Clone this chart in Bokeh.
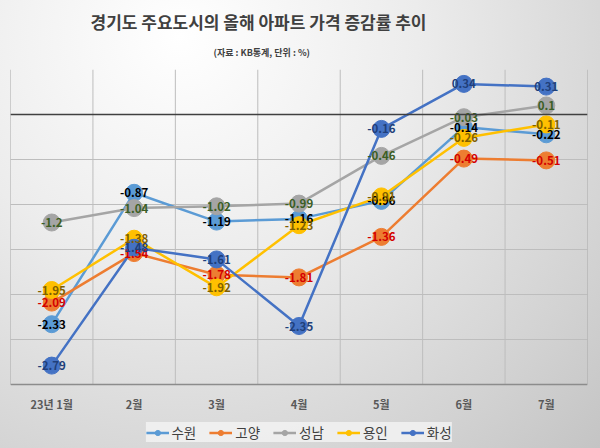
from bokeh.plotting import figure
from bokeh.models import ColumnDataSource, FixedTicker, Span, Title, Legend, LegendItem
from bokeh.core.properties import value
from bokeh.embed import file_html
from bokeh.resources import INLINE

months = ["23년 1월", "2월", "3월", "4월", "5월", "6월", "7월"]
cities = ["수원", "고양", "성남", "용인", "화성"]
suwon = [-2.33, -0.87, -1.19, -1.16, -0.96, -0.14, -0.22]
goyang = [-2.09, -1.54, -1.78, -1.81, -1.36, -0.49, -0.51]
seongnam = [-1.2, -1.04, -1.02, -0.99, -0.46, -0.03, 0.1]
yongin = [-1.95, -1.38, -1.92, -1.23, -0.91, -0.26, -0.11]
hwaseong = [-2.79, -1.48, -1.61, -2.35, -0.16, 0.34, 0.31]
y_grid_ticks = [-3.0, -2.5, -2.0, -1.5, -1.0, -0.5, 0.0, 0.5]

title_text = "경기도 주요도시의 올해 아파트 가격 증감률 추이"
subtitle_text = "(자료 : KB통계, 단위 : %)"

FONT = "Noto Sans CJK KR"
series = [suwon, goyang, seongnam, yongin, hwaseong]
line_colors = ["#5B9BD5", "#ED7D31", "#A5A5A5", "#FFC000", "#4472C4"]
label_colors = ["#000000", "#D40000", "#3B5E24", "#806000", "#203F7A"]

xs = list(range(1, len(months) + 1))
y_lo, y_hi = y_grid_ticks[0], y_grid_ticks[-1]
x_lo, x_hi = xs[0] - 0.5, xs[-1] + 0.5
px_per_unit = 90.0
frame_h = 448 - 69
y_start = y_hi - frame_h / px_per_unit  # extend the frame down to hold tick labels and legend

p = figure(width=600, height=448, x_range=(x_lo, x_hi), y_range=(y_start, y_hi),
           output_backend="svg", toolbar_location=None,
           min_border_left=10, min_border_right=13, min_border_top=69, min_border_bottom=0)
p.title = None
p.styles = {"background": "radial-gradient(ellipse at 30% 8%, #ffffff 0%, #ececec 40%, #d2d2d2 80%, #c4c4c4 100%)"}
p.border_fill_alpha = 0
p.background_fill_alpha = 0
p.outline_line_color = None
p.xaxis.visible = False
p.yaxis.visible = False
p.xgrid.visible = False
p.ygrid.ticker = FixedTicker(ticks=y_grid_ticks)
p.ygrid.grid_line_color = "#BDBDBD"

# vertical grid lines restricted to the plotting area
gx = [x - 0.5 for x in xs] + [x_hi]
gcol = ["#A8A8A8"] + ["#BDBDBD"] * (len(gx) - 2) + ["#A8A8A8"]
p.segment(x0=gx, y0=[y_lo] * len(gx), x1=gx, y1=[y_hi] * len(gx), line_color=gcol, line_width=1)

# category axis line and zero line
p.add_layout(Span(location=y_lo, dimension="width", line_color="#8C8C8C", line_width=1.5))
p.add_layout(Span(location=0, dimension="width", line_color="#404040", line_width=1.5))

for vals, lc in zip(series, line_colors):
    src = ColumnDataSource(dict(x=xs, y=vals))
    p.line("x", "y", source=src, line_color=lc, line_width=2.5)
    p.scatter("x", "y", source=src, size=17, fill_color=lc, line_color=lc)

for vals, tc in zip(series, label_colors):
    src = ColumnDataSource(dict(x=xs, y=vals, t=[str(v) for v in vals]))
    p.text("x", "y", text="t", source=src, text_align="center", text_baseline="middle",
           text_font=value(FONT), text_font_style="bold", text_font_size="11.5px",
           text_color=tc)

# category labels
p.text(x=xs, y=[y_lo - 19 / px_per_unit] * len(xs), text=months,
       text_align="center", text_baseline="middle",
       text_font=value(FONT), text_font_style="bold", text_font_size="11px",
       text_color="#595959")

p.add_layout(Title(text=subtitle_text, align="left", offset=203, standoff=21,
                   text_font=FONT, text_font_style="bold", text_font_size="9px",
                   text_color="#404040"), "above")
p.add_layout(Title(text=title_text, align="left", offset=80, standoff=0,
                   text_font=FONT, text_font_style="bold", text_font_size="17px",
                   text_color="#404040"), "above")

items = []
nan = float("nan")
for name, lc in zip(cities, line_colors):
    dsrc = ColumnDataSource(dict(x=[nan], y=[nan]))
    r1 = p.line("x", "y", source=dsrc, line_color=lc, line_width=2.5)
    r2 = p.scatter("x", "y", source=dsrc, size=7, fill_color=lc, line_color=lc)
    items.append(LegendItem(label=name, renderers=[r1, r2]))

legend = Legend(items=items, orientation="horizontal", location="bottom_center",
                background_fill_color="#F2F2F2", background_fill_alpha=0.85,
                border_line_color=None, label_text_font=FONT, label_text_font_size="13.5px",
                label_text_color="#404040", glyph_width=23, glyph_height=13,
                label_standoff=3, spacing=13, padding=5, margin=6,
                label_height=13)
p.add_layout(legend, "center")

open("out.html", "w").write(file_html(p, INLINE))
